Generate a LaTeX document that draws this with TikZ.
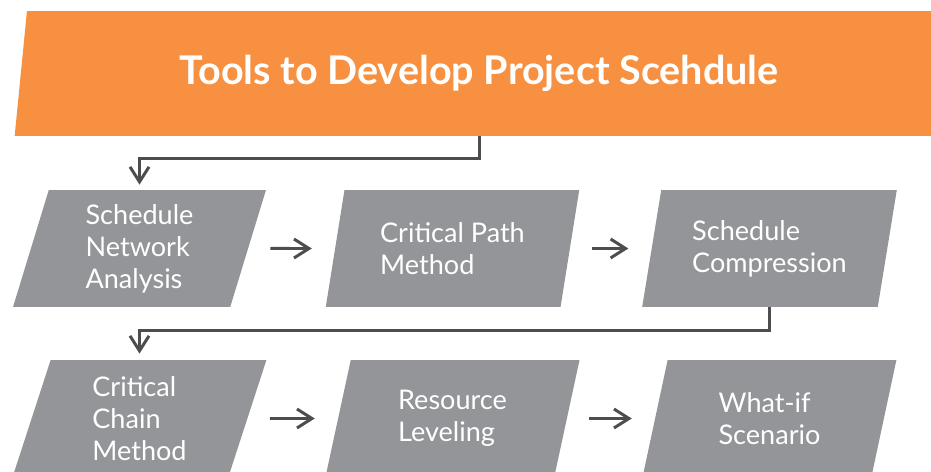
\documentclass[tikz,border=0pt]{standalone}
\usepackage{fontspec}
\setmainfont{Lato}
\usetikzlibrary{arrows.meta,shapes.geometric}
\definecolor{bannerorange}{RGB}{247,144,64}
\definecolor{boxgray}{RGB}{147,149,152}
\definecolor{linegray}{RGB}{77,77,80}

\begin{document}
\begin{tikzpicture}[x=0.02cm,y=-0.02cm,>={Straight Barb[length=0.3cm,width=0.38cm]},
  banner/.style={trapezium,trapezium left angle=77.4,trapezium right angle=102.6,
    trapezium stretches=true,minimum width=18.68cm,minimum height=2.5cm,inner sep=0pt,
    fill=bannerorange,text=white,font=\bfseries\fontsize{22.5}{26}\selectfont},
  toolbox/.style={trapezium,trapezium left angle=76.5,trapezium right angle=103.5,
    trapezium stretches=true,minimum width=5.1cm,minimum height=2.34cm,inner sep=0pt,
    fill=boxgray,text=white,align=left,font=\fontsize{15.4}{18.2}\selectfont},
  link/.style={draw=linegray,line width=1.7pt,->},
]

\useasboundingbox (0,0) rectangle (931,472);
\clip (0,0) rectangle (931,472);

\node[banner] (title) at (479,73.5) {Tools to Develop Project Scehdule};

% first row
\node[toolbox] (sna) at (139.5,248.5) {Schedule\\Network\\Analysis};
\node[toolbox] (cpm) at (452.5,248.5) {Critical Path\\Method};
\node[toolbox] (comp) at (769.5,248.5) {Schedule\\Compression};

% second row
\node[toolbox] (ccm) at (139.5,418.5) {Critical\\Chain\\Method};
\node[toolbox] (level) at (452.5,418.5) {Resource\\Leveling};
\node[toolbox] (whatif) at (769.5,418.5) {What-if\\Scenario};

\draw[link,shorten >=0.1cm] (title.south) -- ++(0,22) -| (sna.north);
\draw[link,shorten <=0.44cm,shorten >=0.46cm] (sna.east) -- (cpm.west);
\draw[link,shorten <=0.44cm,shorten >=0.46cm] (cpm.east) -- (comp.west);

\draw[link,shorten >=0.12cm] (comp.south) -- ++(0,23) -| (ccm.north);
\draw[link,shorten <=0.44cm,shorten >=0.46cm] (ccm.east) -- (level.west);
\draw[link,shorten <=0.44cm,shorten >=0.46cm] (level.east) -- (whatif.west);

\end{tikzpicture}
\end{document}
